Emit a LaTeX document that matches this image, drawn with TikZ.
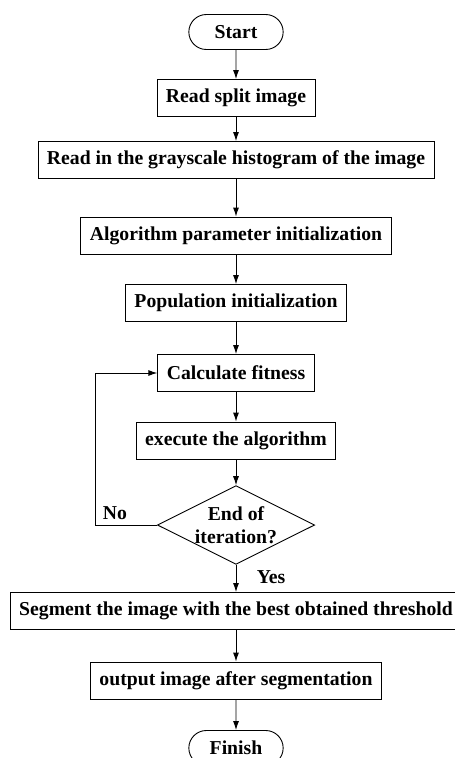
\documentclass[tikz,border=0pt]{standalone}
\usepackage{fontspec}
\setmainfont{Liberation Serif}
\usetikzlibrary{shapes.geometric,shapes.misc,arrows.meta}

\tikzset{
  stepbox/.style={draw, rectangle, minimum height=37pt, inner xsep=9pt,
    font=\fontsize{19.7}{23.5}\selectfont\bfseries},
  termbox/.style={draw, rounded rectangle, minimum width=101pt, minimum height=35pt,
    font=\fontsize{19.7}{23.5}\selectfont\bfseries},
  testbox/.style={draw, diamond, aspect=2, minimum width=151pt, minimum height=76pt,
    inner sep=0pt, align=center, font=\fontsize{19.7}{23.5}\selectfont\bfseries},
  lbl/.style={font=\fontsize{19.7}{23.5}\selectfont\bfseries},
  flow/.style={-{Latex[length=9pt,width=6pt]}, line width=0.9pt}
}

\begin{document}
\begin{tikzpicture}[x=1pt, y=1pt, line width=0.9pt]
  \useasboundingbox (0,0) rectangle (455,-758);
  \node[termbox] (start) at (236,-32) {Start};
  \node[stepbox] (read) at (236,-98) {Read split image};
  \node[stepbox] (hist) at (236,-160) {Read in the grayscale histogram of the image};
  \node[stepbox] (param) at (236,-235.5) {Algorithm parameter initialization};
  \node[stepbox] (pop) at (236,-303) {Population initialization};
  \node[stepbox] (fit) at (236,-373) {Calculate fitness};
  \node[stepbox] (exec) at (236,-440.5) {execute the algorithm};
  \node[testbox] (dec) at (236,-525) {End of\\iteration?};
  \node[stepbox] (seg) at (236,-611) {Segment the image with the best obtained threshold};
  \node[stepbox] (out) at (236,-680.5) {output image after segmentation};
  \node[termbox] (fin) at (236,-748) {Finish};
  \coordinate (back) at (95,-373);
  \node[lbl] (no) at (115,-513) {No};
  \node[lbl] (yes) at (271,-577) {Yes};

  \draw[flow] (start) -- (read);
  \draw[flow] (read) -- (hist);
  \draw[flow] (hist) -- (param);
  \draw[flow] (param) -- (pop);
  \draw[flow] (pop) -- (fit);
  \draw[flow] (fit) -- (exec);
  \draw[flow] (exec) -- (dec);
  \draw[flow] (dec) -- (seg);
  \draw[flow] (seg) -- (out);
  \draw[flow] (out) -- (fin);
  \draw[flow] (dec.west) -| (back) -- (fit.west);
\end{tikzpicture}
\end{document}
